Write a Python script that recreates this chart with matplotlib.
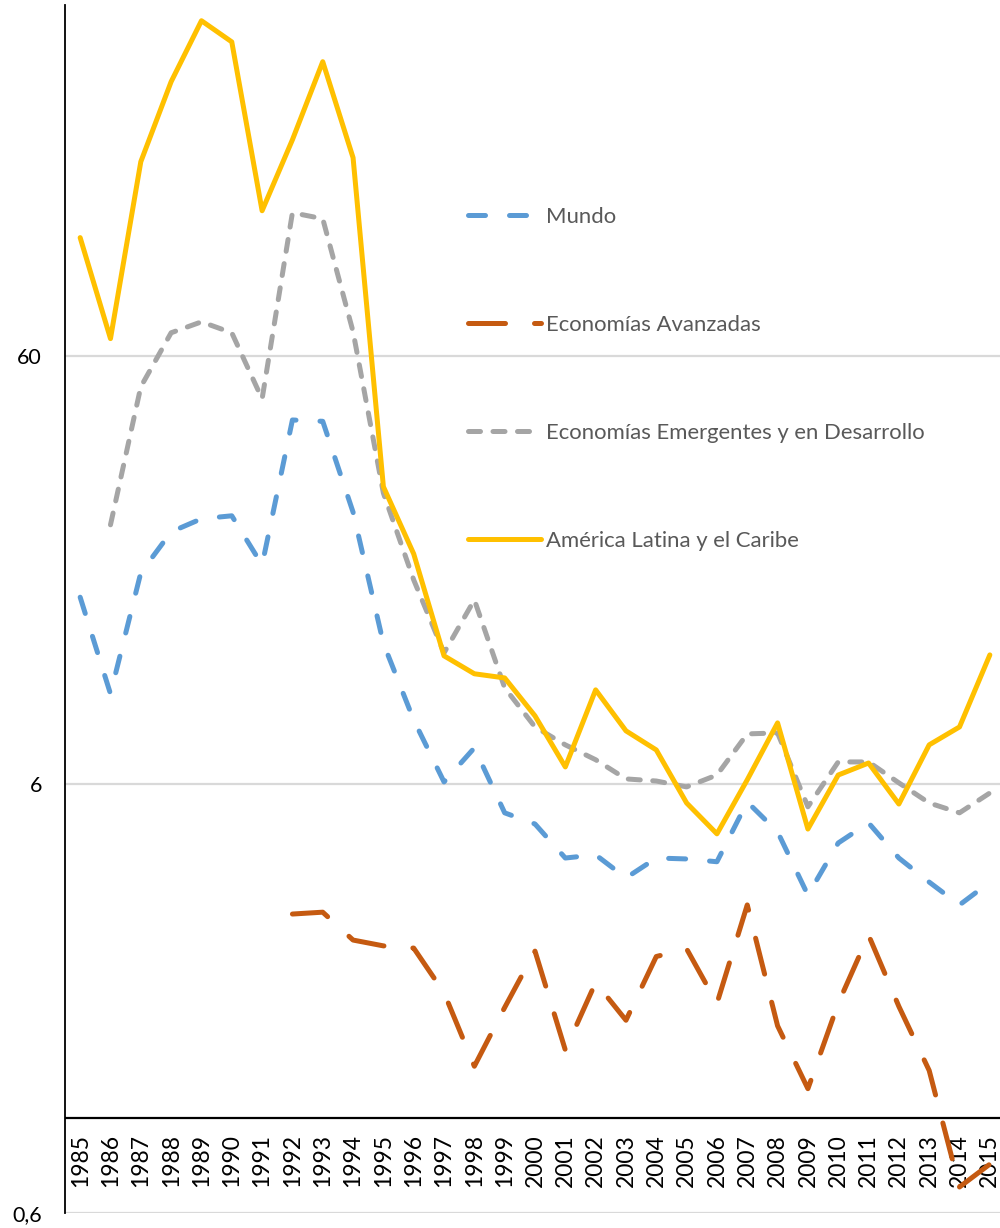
import numpy as np
import matplotlib
matplotlib.use("Agg")
import matplotlib.pyplot as plt

plt.rcParams["font.family"] = ["Lato", "DejaVu Sans"]

# Years on the category axis
years = [str(y) for y in range(1985, 2016)]

# Series values (log scale)
mundo = [16.4, 9.76, 18.7, 23.3, 25.0, 25.4, 19.5, 42.5, 42.2, 25.9,
         12.8, 8.48, 6.08, 7.30, 5.15, 4.85, 4.04, 4.11, 3.63, 4.04,
         4.02, 3.96, 5.46, 4.65, 3.31, 4.38, 4.88, 4.04, 3.55, 3.14, 3.55]

avanzadas = [None, None, None, None, None, None, None,
             2.99, 3.02, 2.60, 2.52, 2.49, 1.96, 1.32, 1.81, 2.45,
             1.44, 2.07, 1.69, 2.38, 2.48, 1.85, 3.14, 1.64, 1.17,
             1.85, 2.67, 1.82, 1.29, 0.69, 0.78]

emergentes = [None, 24.2, 50.8, 67.9, 72.0, 67.9, 47.6, 129.4, 125.3, 68.3,
              28.7, 18.0, 12.16, 16.17, 10.08, 8.17, 7.42, 6.85, 6.18, 6.11,
              5.92, 6.31, 7.87, 7.91, 5.32, 6.77, 6.77, 6.05, 5.43, 5.15, 5.73]

america_latina = [113.2, 65.8, 170.2, 261.6, 363.0, 324.0, 130.8, 191.5, 291.3, 173.9,
                  29.7, 20.7, 11.97, 10.87, 10.63, 8.67, 6.59, 9.97, 8.00, 7.22,
                  5.43, 4.60, 6.15, 8.35, 4.72, 6.31, 6.73, 5.40, 7.42, 8.17, 12.03]

series_names = ["Mundo", "Economías Avanzadas",
                "Economías Emergentes y en Desarrollo", "América Latina y el Caribe"]

y_ticks = [0.6, 6, 60]
y_tick_labels = ["0,6", "6", "60"]


def as_array(values):
    return np.array([np.nan if v is None else v for v in values], dtype=float)


W, H = 1000, 1228
fig = plt.figure(figsize=(W / 100, H / 100), dpi=100)
ax = fig.add_axes([65 / W, 15 / H, 940 / W, 1208 / H])

x = np.arange(len(years))
lw = 3.6
styles = [
    (mundo, "#5B9BD5", (0, (3.4, 4.8))),
    (avanzadas, "#C55A11", (0, (7.4, 5.8))),
    (emergentes, "#A5A5A5", (0, (2.4, 2.5))),
    (america_latina, "#FFC000", "-"),
]
for (vals, color, ls), name in zip(styles, series_names):
    ax.plot(x, as_array(vals), color=color, lw=lw, linestyle=ls,
            dash_capstyle="round", solid_capstyle="round",
            solid_joinstyle="round", dash_joinstyle="round",
            label=name, zorder=4)

ax.set_yscale("log")
ax.set_ylim(0.6, 395)
ax.set_xlim(-0.5, len(years) - 0.5)

# Gridlines at the labelled decades
for v in y_ticks:
    ax.axhline(v, color="#D9D9D9", lw=1.6, zorder=1)

# Category axis crossing at 1
ax.axhline(1.0, color="black", lw=1.6, zorder=3)

ax.set_yticks(y_ticks)
ax.set_yticklabels(y_tick_labels)
ax.yaxis.set_minor_locator(matplotlib.ticker.NullLocator())
ax.yaxis.set_minor_formatter(matplotlib.ticker.NullFormatter())
ax.tick_params(axis="y", length=0, pad=16.5, labelsize=15.5, labelcolor="black")
ax.set_xticks([])

for i, label in enumerate(years):
    ax.annotate(label, xy=(i, 1.0), xytext=(0, -16), textcoords="offset pixels",
                rotation=90, ha="center", va="top", fontsize=16.5, color="black",
                zorder=2)

for side in ["top", "right", "bottom"]:
    ax.spines[side].set_visible(False)
ax.spines["left"].set_color("black")
ax.spines["left"].set_linewidth(1.3)

leg = ax.legend(loc="upper left", bbox_to_anchor=(468 / W, 1 - 207 / H),
                bbox_transform=fig.transFigure, frameon=False, fontsize=15.9,
                handlelength=3.3, handletextpad=0.25, labelspacing=3.98,
                borderpad=0, borderaxespad=0)
for t in leg.get_texts():
    t.set_color("#595959")

fig.savefig("out.png", dpi=100)
